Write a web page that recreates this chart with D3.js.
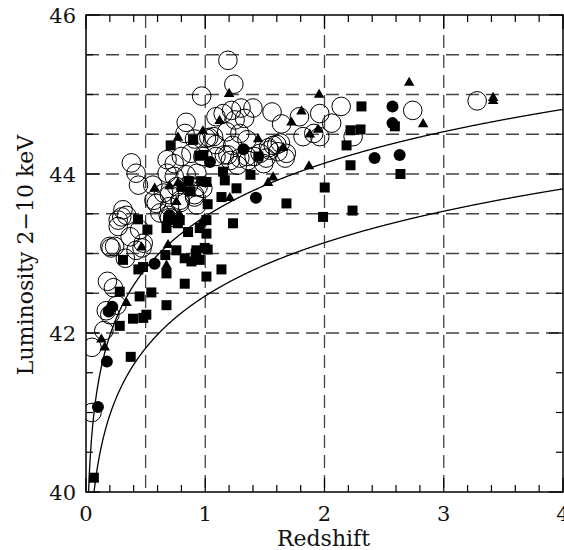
<!DOCTYPE html>
<html lang="en">
<head>
<meta charset="UTF-8"/>
<title>Luminosity vs Redshift</title>
<script src="https://d3js.org/d3.v7.min.js"></script>
<style>
	body { margin: 0; background: #fff; }
	text { font-family: "DejaVu Serif", serif; fill: #111; }
</style>
</head>
<body>
<script>
	// [redshift, log luminosity]
	var openCircles = [
		[1.19,45.43],[1.24,45.13],[0.97,44.98],[1.15,44.76],[1.22,44.80],[1.30,44.83],[1.40,44.83],
		[1.25,44.68],[1.33,44.70],[0.84,44.65],[1.09,44.72],[1.56,44.78],[1.64,44.63],[0.83,44.51],
		[1.01,44.45],[1.07,44.47],[1.18,44.53],[1.29,44.51],[1.23,44.36],[1.35,44.43],[1.19,44.24],
		[1.29,44.20],[1.35,44.22],[1.46,44.26],[1.57,44.36],[1.63,44.39],[1.61,44.28],[1.68,44.26],
		[0.38,44.14],[0.42,44.01],[0.44,43.86],[0.56,43.86],[0.59,43.63],[0.68,44.18],[0.74,44.13],
		[0.80,44.22],[0.88,44.26],[0.98,44.22],[1.09,44.22],[0.68,44.01],[0.74,43.97],[0.84,43.99],
		[0.93,44.01],[0.76,43.84],[0.86,43.86],[0.94,43.84],[0.70,43.74],[0.91,43.74],[0.79,43.67],
		[0.93,43.61],[0.70,43.59],[0.30,43.46],[0.27,43.34],[0.45,43.30],[0.62,43.51],[0.20,43.09],
		[0.48,43.13],[0.31,43.55],[0.34,43.48],[0.27,43.42],[0.37,43.21],[0.24,43.09],[0.21,43.07],
		[0.42,43.04],[0.65,43.76],[0.69,43.48],[0.18,42.65],[0.23,42.57],[0.17,42.28],[0.20,42.23],
		[0.15,42.03],[0.05,41.82],[0.05,41.00],[0.33,42.94],[0.26,42.35],[0.47,43.07],
		[1.79,44.72],[1.96,44.76],[2.06,44.64],[2.14,44.85],[1.91,44.51],[1.96,44.47],[1.82,44.47],
		[2.24,44.47],[1.54,44.30],[1.49,44.13],[1.67,44.20],[2.74,44.80],[3.28,44.92],
		[0.91,44.44],[1.03,44.46],[1.09,44.37],[1.16,44.24],[1.21,44.17],[1.27,44.11],[1.36,44.17],
		[1.41,44.22],[1.53,44.33],[1.51,44.20],[1.60,44.37],[0.98,43.82],[0.91,43.71],[0.79,43.64],
		[0.70,43.45],[0.57,43.67]
	];

	var filledCircles = [
		[0.10,41.07],[0.175,41.64],[0.22,42.33],[0.19,42.27],[0.575,42.87],[0.70,43.48],[1.04,44.15],
		[1.32,44.31],[1.425,43.70],[2.42,44.20],[2.57,44.85],[2.57,44.64],[2.63,44.24]
	];

	var triangles = [
		[0.129,41.93],[0.157,41.83],[0.339,42.39],[0.465,43.09],[0.576,43.83],[0.675,42.86],[0.688,43.12],
		[0.70,43.86],[0.758,43.66],[0.772,43.90],[0.772,44.47],[0.785,43.50],[0.98,44.55],[0.996,43.45],
		[0.97,43.40],[1.12,44.68],[1.20,45.02],[1.206,43.71],[1.443,44.45],[1.527,43.90],[1.569,43.97],
		[1.653,44.34],[1.723,44.66],[1.807,44.80],[1.87,44.11],[1.877,44.51],[1.946,44.57],[1.955,45.01],
		[2.71,45.16],[2.827,44.64],[3.414,44.97],[3.414,44.93]
	];

	var squares = [
		[0.066,40.18],[0.375,41.70],[0.283,42.09],[0.394,42.18],[0.48,42.19],[0.506,42.23],[0.45,42.46],
		[0.548,42.51],[0.283,42.52],[0.31,42.92],[0.439,42.80],[0.478,42.83],[0.436,43.43],[0.515,43.30],
		[0.675,42.35],[0.675,42.75],[0.665,42.98],[0.675,43.32],[0.758,43.04],[0.77,43.38],[0.828,42.62],
		[0.856,43.27],[0.828,42.94],[0.884,42.90],[0.926,43.04],[0.954,42.92],[0.996,43.07],[1.02,43.05],
		[1.01,42.71],[1.01,43.25],[0.954,43.32],[1.01,43.42],[1.02,43.62],[1.01,43.90],[0.966,43.91],
		[0.984,44.24],[0.95,44.23],[0.898,44.43],[0.71,44.36],[0.80,43.84],[0.876,43.78],[0.861,43.91],
		[1.136,42.80],[1.136,43.71],[1.149,44.03],[1.164,43.92],[1.233,43.38],[1.262,43.82],[1.379,43.99],
		[1.445,44.22],[1.681,43.63],[2.002,43.83],[1.988,43.46],[2.185,44.36],[2.218,44.11],[2.218,44.55],
		[2.235,43.54],[2.302,44.56],[2.31,44.85],[2.59,44.60],[2.637,44.00],[0.688,43.42],[0.786,43.42],
		[0.92,43.00]
	];

	var xTickLabels = [0,1,2,3,4];
	var yTickLabels = [40,42,44,46];
	var xGrid = [0.5,1,2,3];
	var yGrid = [42,42.5,43,43.5,44,44.5,45,45.5];
	// flux limit curves: log L = offset + log10(d_L^2), Einstein-de Sitter
	var limitOffsets = [43.93, 42.93];

	var w = 564, h = 550;
	var plotL = 86, plotR = 563, plotT = 15, plotB = 492;

	var xScale = d3.scaleLinear().domain([0,4]).range([plotL,plotR]);
	var yScale = d3.scaleLinear().domain([40,46]).range([plotB,plotT]);

	var svg = d3.select("body").append("svg").attr("width",w).attr("height",h);

	svg.append("clipPath").attr("id","plotclip")
		.append("rect").attr("x",plotL).attr("y",plotT)
		.attr("width",plotR-plotL).attr("height",plotB-plotT);

	// dashed grid
	svg.selectAll(".vgrid").data(xGrid).enter().append("line")
		.attr("x1",function(d){ return xScale(d); })
		.attr("x2",function(d){ return xScale(d); })
		.attr("y1",plotT).attr("y2",plotB)
		.attr("stroke","#444").attr("stroke-width",1.3)
		.attr("stroke-dasharray","13,7");

	svg.selectAll(".hgrid").data(yGrid).enter().append("line")
		.attr("y1",function(d){ return yScale(d); })
		.attr("y2",function(d){ return yScale(d); })
		.attr("x1",plotL).attr("x2",plotR)
		.attr("stroke","#444").attr("stroke-width",1.3)
		.attr("stroke-dasharray","13,7");

	// ticks
	var xMinor = d3.range(0, 4.001, 0.2);
	var yMinor = d3.range(40, 46.001, 0.5);
	function tickLen(v, step){ return Math.abs(v/step - Math.round(v/step)) < 1e-6 ? 14 : 7; }

	xMinor.forEach(function(v){
		var len = tickLen(v,1);
		svg.append("line").attr("x1",xScale(v)).attr("x2",xScale(v))
			.attr("y1",plotB).attr("y2",plotB-len).attr("stroke","#000").attr("stroke-width",1.2);
		svg.append("line").attr("x1",xScale(v)).attr("x2",xScale(v))
			.attr("y1",plotT).attr("y2",plotT+len).attr("stroke","#000").attr("stroke-width",1.2);
	});
	yMinor.forEach(function(v){
		var len = tickLen(v-40,2);
		svg.append("line").attr("y1",yScale(v)).attr("y2",yScale(v))
			.attr("x1",plotL).attr("x2",plotL+len).attr("stroke","#000").attr("stroke-width",1.2);
		svg.append("line").attr("y1",yScale(v)).attr("y2",yScale(v))
			.attr("x1",plotR).attr("x2",plotR-len).attr("stroke","#000").attr("stroke-width",1.2);
	});

	// curves
	var zs = d3.range(0.005, 4.0001, 0.005);
	var line = d3.line()
		.x(function(d){ return xScale(d[0]); })
		.y(function(d){ return yScale(d[1]); });
	limitOffsets.forEach(function(off){
		var pts = zs.map(function(z){ return [z, off + 2*Math.log10(1 + z - Math.sqrt(1 + z))]; })
			.filter(function(p){ return p[1] > 39; });
		svg.append("path").datum(pts)
			.attr("d",line)
			.attr("fill","none").attr("stroke","#000").attr("stroke-width",1.3)
			.attr("clip-path","url(#plotclip)");
	});

	var g = svg.append("g").attr("clip-path","url(#plotclip)");

	// open circles
	g.selectAll(".open").data(openCircles).enter().append("circle")
		.attr("cx",function(d){ return xScale(d[0]); })
		.attr("cy",function(d){ return yScale(d[1]); })
		.attr("r",9.3)
		.attr("fill","none").attr("stroke","#000").attr("stroke-width",1);

	// squares
	g.selectAll(".sq").data(squares).enter().append("rect")
		.attr("x",function(d){ return xScale(d[0]) - 5; })
		.attr("y",function(d){ return yScale(d[1]) - 5; })
		.attr("width",10).attr("height",10)
		.attr("fill","#000");

	// triangles
	var tri = d3.symbol().type(d3.symbolTriangle).size(48);
	g.selectAll(".tri").data(triangles).enter().append("path")
		.attr("d",tri)
		.attr("transform",function(d){ return "translate(" + xScale(d[0]) + "," + (yScale(d[1]) + 1) + ")"; })
		.attr("fill","#000");

	// filled circles
	g.selectAll(".dot").data(filledCircles).enter().append("circle")
		.attr("cx",function(d){ return xScale(d[0]); })
		.attr("cy",function(d){ return yScale(d[1]); })
		.attr("r",6)
		.attr("fill","#000");

	// frame
	svg.append("rect").attr("x",plotL).attr("y",plotT)
		.attr("width",plotR-plotL).attr("height",plotB-plotT)
		.attr("fill","none").attr("stroke","#000").attr("stroke-width",1.5);

	// labels
	svg.selectAll(".xl").data(xTickLabels).enter().append("text")
		.attr("x",function(d){ return xScale(d); })
		.attr("y",521)
		.attr("text-anchor","middle")
		.attr("font-size",21)
		.text(function(d){ return d; });

	svg.selectAll(".yl").data(yTickLabels).enter().append("text")
		.attr("x",76)
		.attr("y",function(d){ return yScale(d) + 7.5; })
		.attr("text-anchor","end")
		.attr("font-size",21)
		.text(function(d){ return d; });

	svg.append("text")
		.attr("x",(plotL+plotR)/2 - 1)
		.attr("y",546)
		.attr("text-anchor","middle")
		.attr("font-size",22)
		.text("Redshift");

	svg.append("text")
		.attr("transform","translate(33,255) rotate(-90)")
		.attr("text-anchor","middle")
		.attr("font-size",22)
		.text("Luminosity 2\u221210 keV");
</script>
</body>
</html>
